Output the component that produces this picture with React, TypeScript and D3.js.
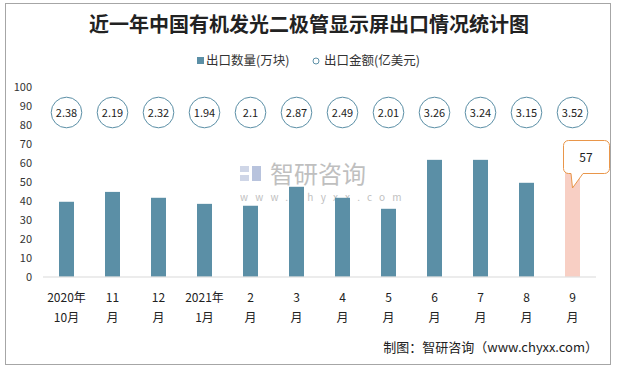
import React, { useEffect, useRef } from 'react';
import * as d3 from 'd3';

const months = ['2020年|10月', '11|月', '12|月', '2021年|1月', '2|月', '3|月', '4|月', '5|月', '6|月', '7|月', '8|月', '9|月'];
const volume = [39.5, 44.7, 41.6, 38.4, 37.4, 47.4, 41.6, 35.8, 61.6, 61.6, 49.5, 57];
const amount = [2.38, 2.19, 2.32, 1.94, 2.1, 2.87, 2.49, 2.01, 3.26, 3.24, 3.15, 3.52];
const yTicks = [0, 10, 20, 30, 40, 50, 60, 70, 80, 90, 100];

const FONT = '"Noto Sans CJK SC", "Noto Sans", sans-serif';

const App = () => {
  const ref = useRef<SVGSVGElement>(null);

  useEffect(() => {
    const width = 618;
    const height = 369;
    const svg = d3.select(ref.current);
    svg.selectAll('*').remove();
    svg.attr('width', width).attr('height', height);

    svg.append('rect').attr('width', width).attr('height', height).attr('fill', '#fff');
    // outer frame
    svg.append('rect')
      .attr('x', 5.5).attr('y', 3.5).attr('width', 605).attr('height', 361)
      .attr('fill', 'none').attr('stroke', '#a6a6a6');

    const x = d3.scaleBand().domain(months).range([43.5, 595.5]).paddingInner(0.674).paddingOuter(0.337);
    const y = d3.scaleLinear().domain([0, 100]).range([276.7, 87]);

    // title
    svg.append('text')
      .attr('x', 309).attr('y', 32)
      .attr('text-anchor', 'middle')
      .attr('font-family', '"Noto Sans CJK SC", serif')
      .attr('font-weight', 'bold')
      .attr('font-size', 20)
      .attr('fill', '#222')
      .text('近一年中国有机发光二极管显示屏出口情况统计图');

    // legend
    const lg = svg.append('g').attr('font-family', FONT).attr('font-size', 12.5).attr('fill', '#333');
    lg.append('rect').attr('x', 197).attr('y', 57).attr('width', 7).attr('height', 7).attr('fill', '#5b8fa6');
    lg.append('text').attr('x', 206).attr('y', 65).text('出口数量(万块)');
    lg.append('circle').attr('cx', 316).attr('cy', 61).attr('r', 3).attr('fill', '#fff').attr('stroke', '#5b8fa6');
    lg.append('text').attr('x', 324).attr('y', 65).text('出口金额(亿美元)');

    // y tick labels
    svg.append('g').selectAll('text').data(yTicks).enter().append('text')
      .attr('x', 32).attr('y', d => y(d) + 4)
      .attr('text-anchor', 'end')
      .attr('font-family', FONT).attr('font-size', 11).attr('fill', '#333')
      .text(d => d);

    // watermark
    const wm = svg.append('g').attr('opacity', 0.55);
    wm.append('rect').attr('x', 240).attr('y', 166).attr('width', 9).attr('height', 6).attr('fill', '#a9b6d4');
    wm.append('rect').attr('x', 240).attr('y', 175).attr('width', 9).attr('height', 6).attr('fill', '#a9b6d4');
    wm.append('rect').attr('x', 252).attr('y', 166).attr('width', 9).attr('height', 15).attr('fill', '#7f93c2');
    wm.append('text').attr('x', 270).attr('y', 183)
      .attr('font-family', FONT).attr('font-size', 24).attr('fill', '#8c8c8c')
      .text('智研咨询');
    wm.append('text').attr('x', 240).attr('y', 201)
      .attr('font-family', FONT).attr('font-size', 10).attr('letter-spacing', 7.2).attr('fill', '#8c8c8c')
      .text('www.chyxx.com');

    // bars
    svg.append('g').selectAll('rect').data(volume).enter().append('rect')
      .attr('x', (d, i) => x(months[i]) as number)
      .attr('y', d => y(d))
      .attr('width', x.bandwidth())
      .attr('height', d => y(0) - y(d))
      .attr('fill', (d, i) => (i === volume.length - 1 ? '#f8cfc4' : '#5b8fa6'));

    // baseline
    svg.append('line')
      .attr('x1', 43).attr('x2', 596).attr('y1', 277).attr('y2', 277)
      .attr('stroke', '#d9d9d9').attr('stroke-width', 1);

    // amount bubbles
    const bub = svg.append('g').selectAll('g').data(amount).enter().append('g')
      .attr('transform', (d, i) => `translate(${(x(months[i]) as number) + x.bandwidth() / 2},112.5)`);
    bub.append('circle').attr('r', 15.3).attr('fill', '#fff').attr('stroke', '#5b8fa6').attr('stroke-width', 1);
    bub.append('text')
      .attr('text-anchor', 'middle').attr('y', 4)
      .attr('font-family', FONT).attr('font-size', 11).attr('fill', '#222')
      .text(d => d);

    // x labels
    const xl = svg.append('g').selectAll('text').data(months).enter().append('text')
      .attr('text-anchor', 'middle')
      .attr('font-family', FONT).attr('font-size', 12).attr('fill', '#222')
      .attr('transform', d => `translate(${(x(d) as number) + x.bandwidth() / 2},0)`);
    xl.append('tspan').attr('x', 0).attr('y', 302).text(d => d.split('|')[0]);
    xl.append('tspan').attr('x', 0).attr('y', 322).text(d => d.split('|')[1]);

    // callout on last bar
    const last = volume.length - 1;
    const cx = (x(months[last]) as number) + x.bandwidth() / 2;
    const bx = 563.5, by = 140.5, bw = 46, bh = 33, r = 5;
    const tipX = cx, tipY = 188;
    const path = d3.path();
    path.moveTo(bx + r, by);
    path.lineTo(bx + bw - r, by);
    path.arcTo(bx + bw, by, bx + bw, by + r, r);
    path.lineTo(bx + bw, by + bh - r);
    path.arcTo(bx + bw, by + bh, bx + bw - r, by + bh, r);
    path.lineTo(583, by + bh);
    path.lineTo(tipX, tipY);
    path.lineTo(571, by + bh);
    path.lineTo(bx + r, by + bh);
    path.arcTo(bx, by + bh, bx, by + bh - r, r);
    path.lineTo(bx, by + r);
    path.arcTo(bx, by, bx + r, by, r);
    path.closePath();
    svg.append('path').attr('d', path.toString())
      .attr('fill', '#fff').attr('stroke', '#e9964a').attr('stroke-width', 1);
    svg.append('text')
      .attr('x', 586).attr('y', 162).attr('text-anchor', 'middle')
      .attr('font-family', FONT).attr('font-size', 12).attr('fill', '#222')
      .text(volume[last]);

    // footer
    svg.append('text')
      .attr('x', 598).attr('y', 352).attr('text-anchor', 'end')
      .attr('font-family', '"Noto Sans CJK SC", monospace').attr('font-size', 13).attr('fill', '#222')
      .text('制图：智研咨询（www.chyxx.com）');
  }, []);

  return (
    <div style={{ position: 'absolute', left: 0, top: 0 }}>
      <svg ref={ref}></svg>
    </div>
  );
};

export default App;
